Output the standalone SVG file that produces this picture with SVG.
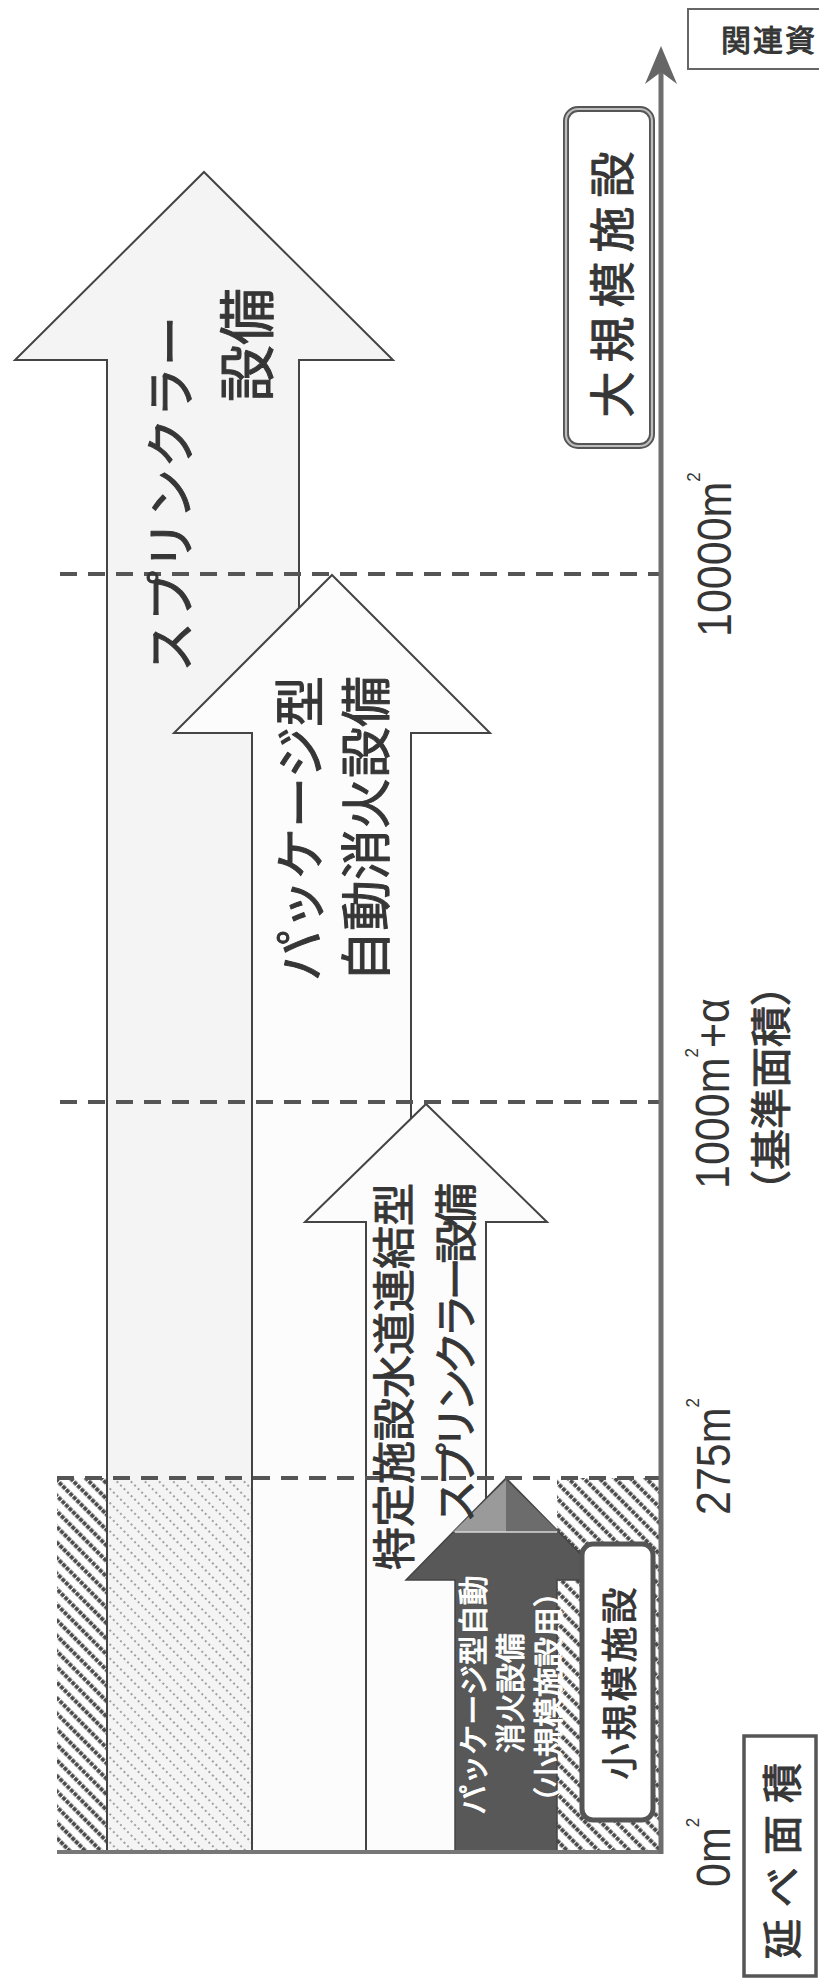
<svg xmlns="http://www.w3.org/2000/svg" width="819" height="1986" viewBox="0 0 819 1986">
<style>
.jp{font-family:"Noto Sans CJK JP","Noto Sans CJK SC",sans-serif;fill:#363636;stroke:#363636;stroke-width:1;stroke-linejoin:round;}
.num{font-family:"Liberation Sans",Arial,sans-serif;fill:#363636;font-size:43px;}
.arrow{stroke:#444;stroke-width:2;stroke-linejoin:miter;}
.dash{stroke:#555;stroke-width:4;stroke-dasharray:17 11;fill:none;}
.wt{fill:#fff;stroke:#fff;}
</style>
<defs>
<pattern id="hatchDark" patternUnits="userSpaceOnUse" width="11" height="10" patternTransform="rotate(-45)">
<rect width="11" height="10" fill="#fff"/>
<line x1="5.5" y1="0" x2="5.5" y2="10" stroke="#4a4a4a" stroke-width="4" stroke-dasharray="4 1"/>
</pattern>
<pattern id="hatchLight" patternUnits="userSpaceOnUse" width="10" height="10" patternTransform="rotate(-45)">
<line x1="5" y1="0" x2="5" y2="10" stroke="#858585" stroke-width="1.5" stroke-dasharray="2 3"/>
</pattern>
</defs>
<rect width="819" height="1986" fill="#fff"/>

<g id="hatch-regions">
<rect x="57" y="1478" width="51" height="374" fill="url(#hatchDark)"/>
<rect x="557" y="1478" width="104" height="374" fill="url(#hatchDark)"/>
</g>

<g id="node-sprinkler">
<path class="arrow" fill="#f4f4f4" d="M204,172 L393,360 L299,360 L299,1852 L107,1852 L107,360 L15,360 Z"/>
<rect x="108" y="1480" width="190" height="372" fill="url(#hatchLight)"/>
</g>

<g id="node-package">
<path class="arrow" fill="#fcfcfc" d="M332,575 L490,733 L411,733 L411,1852 L252,1852 L252,733 L174,733 Z"/>
</g>

<g id="node-tokutei">
<path class="arrow" fill="#fcfcfc" d="M426,1104 L547,1222 L486,1222 L486,1852 L366,1852 L366,1222 L305,1222 Z"/>
</g>

<g id="node-small-package">
<path fill="#585858" stroke="#444" stroke-width="1.5" d="M506,1478 L606,1580 L557,1580 L557,1852 L455,1852 L455,1580 L406,1580 Z"/>
<path fill="#9a9a9a" d="M506,1480 L453,1532 L506,1532 Z"/>
<path fill="#6c6c6c" d="M506,1480 L559,1532 L506,1532 Z"/>
<line x1="455" y1="1532" x2="557" y2="1532" stroke="#d8d8d8" stroke-width="1.5"/>
</g>

<g id="node-small-facility">
<rect x="582" y="1544" width="71" height="276" rx="11" fill="#fff" stroke="#555" stroke-width="5"/>
<text class="jp" font-size="36" letter-spacing="3" text-anchor="middle" dominant-baseline="central" transform="translate(617,1682) rotate(-90)">小規模施設</text>
</g>

<g id="gridlines">
<line class="dash" x1="60" y1="574" x2="659" y2="574"/>
<line class="dash" x1="60" y1="1102" x2="659" y2="1102"/>
<line class="dash" x1="57" y1="1478" x2="659" y2="1478"/>
</g>

<g id="connectors">
<line x1="57" y1="1852" x2="663" y2="1852" stroke="#777" stroke-width="4"/>
<line x1="661" y1="1854" x2="661" y2="70" stroke="#6e6e6e" stroke-width="5"/>
<path d="M661,46 L677,84 L661,72 L645,84 Z" fill="#666"/>
</g>

<g id="label-sprinkler">
<text class="jp" font-size="50" letter-spacing="1" dominant-baseline="central" transform="translate(167,672) rotate(-90)">スプリンクラー</text>
<text class="jp" font-size="57" text-anchor="end" dominant-baseline="central" transform="translate(243,288) rotate(-90)">設備</text>
</g>

<g id="label-package">
<text class="jp" font-size="51" text-anchor="end" dominant-baseline="central" transform="translate(297,676) rotate(-90)">パッケージ型</text>
<text class="jp" font-size="51" text-anchor="end" dominant-baseline="central" transform="translate(363,676) rotate(-90)">自動消火設備</text>
</g>

<g id="label-tokutei">
<text class="jp" font-size="43" text-anchor="end" dominant-baseline="central" transform="translate(391,1183) rotate(-90)">特定施設水道連結型</text>
<text class="jp" font-size="43" text-anchor="end" dominant-baseline="central" textLength="340" lengthAdjust="spacing" transform="translate(453,1183) rotate(-90)">スプリンクラー設備</text>
</g>

<g id="label-small-package">
<text class="jp wt" font-size="30" text-anchor="middle" dominant-baseline="central" transform="translate(471,1695) rotate(-90)">パッケージ型自動</text>
<text class="jp wt" font-size="30" text-anchor="middle" dominant-baseline="central" transform="translate(508,1693) rotate(-90)">消火設備</text>
<text class="jp wt" font-size="30" text-anchor="middle" dominant-baseline="central" transform="translate(546,1697) rotate(-90)">（小規模施設用）</text>
</g>

<g id="node-large-facility">
<rect x="566" y="109" width="86" height="337" rx="12" fill="#fff" stroke="#555" stroke-width="6"/>
<rect x="566" y="109" width="86" height="337" rx="12" fill="none" stroke="#bdbdbd" stroke-width="2.2"/>
<text class="jp" font-size="46" letter-spacing="9" text-anchor="middle" dominant-baseline="central" transform="translate(609,280) rotate(-90)">大規模施設</text>
</g>

<g id="node-related">
<rect x="688" y="9" width="140" height="60" fill="#fff" stroke="#666" stroke-width="2"/>
<text class="jp" x="721" y="51" font-size="30" letter-spacing="2">関連資</text>
</g>

<g id="node-area">
<rect x="744" y="1736" width="72" height="240" fill="#fff" stroke="#555" stroke-width="3.5"/>
<text class="jp" font-size="40" letter-spacing="12" text-anchor="middle" dominant-baseline="central" transform="translate(780,1855) rotate(-90)">延べ面積</text>
</g>

<g id="axis-labels">
<text class="num" transform="translate(731,637) rotate(-90) scale(1,1.1)">10000m<tspan font-size="17" dy="-28">2</tspan></text>
<text class="num" transform="translate(729,1189) rotate(-90) scale(1,1.1)">1000m<tspan font-size="17" dy="-28">2</tspan><tspan dy="28">+α</tspan></text>
<text class="jp" font-size="41" dominant-baseline="central" transform="translate(768,1211) rotate(-90)">（基準面積）</text>
<text class="num" transform="translate(730,1515) rotate(-90) scale(1,1.1)">275m<tspan font-size="17" dy="-28">2</tspan></text>
<text class="num" transform="translate(730,1887) rotate(-90) scale(1,1.1)">0m<tspan font-size="17" dy="-28">2</tspan></text>
</g>
</svg>
